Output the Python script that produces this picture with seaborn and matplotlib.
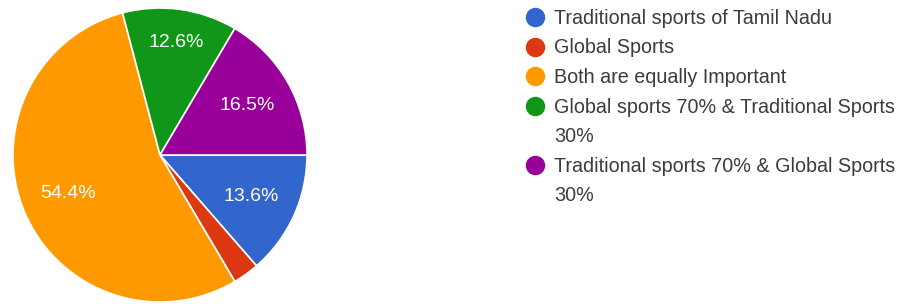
import matplotlib
matplotlib.use("Agg")
import matplotlib.pyplot as plt
import seaborn as sns
from matplotlib.lines import Line2D

sns.set_theme(style="white")
plt.rcParams["font.family"] = ["Liberation Sans", "DejaVu Sans"]

# Survey answers and their share (%)
labels = [
    "Traditional sports of Tamil Nadu",
    "Global Sports",
    "Both are equally Important",
    "Global sports 70% & Traditional Sports\n30%",
    "Traditional sports 70% & Global Sports\n30%",
]
shares = [13.6, 2.9, 54.4, 12.6, 16.5]
colors = ["#3366CC", "#DC3912", "#FF9900", "#109618", "#990099"]

fig = plt.figure(figsize=(9.09, 3.04), dpi=100)
# pie axes: centre ~ (160, 155) px, radius ~ 147 px
ax = fig.add_axes([13 / 909, 2 / 304, 294 / 909, 294 / 304])

def pct(v):
    return f"{v:.1f}%" if v >= 5 else ""

wedges, texts, autotexts = ax.pie(
    shares, colors=colors, startangle=0, counterclock=False,
    autopct=pct, pctdistance=0.68, radius=1,
    wedgeprops=dict(edgecolor="white", linewidth=1.2),
    textprops=dict(color="white", fontsize=14),
)
# the green label sits a bit further out in the original
x, y = autotexts[3].get_position()
autotexts[3].set_position((x * 1.14, y * 1.14))
ax.set_xlim(-1, 1)
ax.set_ylim(-1, 1)
ax.set_aspect("equal")

# Legend: wrapped labels get their second line as a marker-less row
handles, rows = [], []
for lab, c in zip(labels, colors):
    for i, line in enumerate(lab.split("\n")):
        if i == 0:
            handles.append(Line2D([], [], marker="o", linestyle="", markersize=13,
                                  markerfacecolor=c, markeredgecolor=c))
        else:
            handles.append(Line2D([], [], linestyle="", marker=""))
        rows.append(line)

leg = fig.legend(handles, rows, loc="upper left",
                 bbox_to_anchor=(516 / 909, 1 - 1 / 304),
                 frameon=False, fontsize=14.2, labelspacing=0.535,
                 handletextpad=0.45, handlelength=1.1, borderaxespad=0)
for t in leg.get_texts():
    t.set_color("#3c3c3c")

fig.savefig("out.png", dpi=100)
